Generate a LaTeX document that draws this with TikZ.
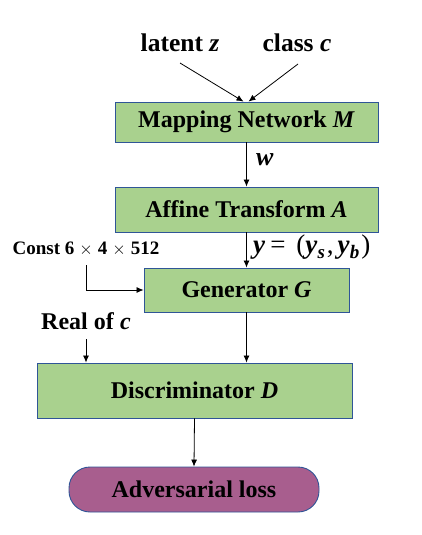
\documentclass[tikz,border=0pt]{standalone}
\usepackage{fontspec}
\setmainfont{Liberation Serif}
\usetikzlibrary{arrows.meta}
\definecolor{boxgreen}{HTML}{A9D18E}
\definecolor{boxedge}{HTML}{2F5597}
\definecolor{losspurple}{HTML}{A85E8E}
\newcommand{\bi}[1]{\textbf{\textit{#1}}}
\newcommand{\subbi}[1]{\raisebox{-5pt}{\fontsize{19}{20}\selectfont\bi{#1}}}
\begin{document}
\begin{tikzpicture}[x=1pt,y=-1pt,
  every node/.style={font=\fontsize{24}{28}\selectfont\bfseries},
  block/.style={draw=boxedge, line width=0.9pt, fill=boxgreen, inner sep=0pt},
  lossbox/.style={draw=boxedge, line width=0.9pt, fill=losspurple, rounded corners=21pt, inner sep=0pt},
  lbl/.style={inner sep=0pt},
  conn/.style={line width=0.8pt, -{Latex[length=7pt,width=6pt]}}
]
\useasboundingbox (0,0) rectangle (422,535);
% blocks
\node[block, minimum width=263pt, minimum height=40pt] (M) at (246.5,122) {Mapping Network \bi{M}};
\node[block, minimum width=263pt, minimum height=45pt] (A) at (246.5,209.5) {Affine Transform \bi{A}};
\node[block, minimum width=205pt, minimum height=44pt] (G) at (246.5,290) {Generator \bi{G}};
\node[block, minimum width=315pt, minimum height=55pt] (D) at (194.5,390.5) {Discriminator \bi{D}};
\node[lossbox, minimum width=250pt, minimum height=45pt] (L) at (194,489.5) {Adversarial loss};
% labels
\node[lbl, anchor=base, font=\fontsize{25.5}{28}\selectfont\bfseries] (lat) at (180,52) {latent \bi{z}};
\node[lbl, anchor=base, font=\fontsize{25.5}{28}\selectfont\bfseries] (cls) at (297,52) {class \bi{c}};
\node[lbl, anchor=west, font=\fontsize{26}{28}\selectfont\bfseries] (w) at (256,160) {\bi{w}};
\node[lbl, anchor=west, font=\fontsize{27}{28}\selectfont\bfseries] (y) at (253,247)
  {\bi{y}\hspace{5pt}{\mdseries=}\hspace{11pt}{\mdseries(}\bi{y}\subbi{s}\kern2pt{\mdseries,}\kern4pt\bi{y}\subbi{b}\kern2pt{\mdseries)}};
\node[lbl, font=\fontsize{19}{21}\selectfont\bfseries, anchor=base] (const) at (86,254) {Const 6\hspace{5pt}$\times$\hspace{5pt}4\hspace{5pt}$\times$\hspace{5pt}512};
\node[lbl, anchor=base] (real) at (86,329) {Real of \bi{c}};
% helper coordinates for connector ends
\coordinate (latS) at (180,63);
\coordinate (clsS) at (298,64);
\coordinate (constS) at (86,265);
\coordinate (realS) at (86,339);
% connectors
\draw[conn] (latS) -- ([xshift=-3pt]M.north);
\draw[conn] (clsS) -- ([xshift=2pt]M.north);
\draw[conn] (M.south) -- (A.north);
\draw[conn] (A.south) -- (G.north);
\draw[conn] (constS) |- (G.west);
\draw[conn] (realS) -- (realS |- D.north);
\draw[conn] (G.south) -- (G.south |- D.north);
\draw[conn] (D.south) -- (L.north);
\end{tikzpicture}
\end{document}
